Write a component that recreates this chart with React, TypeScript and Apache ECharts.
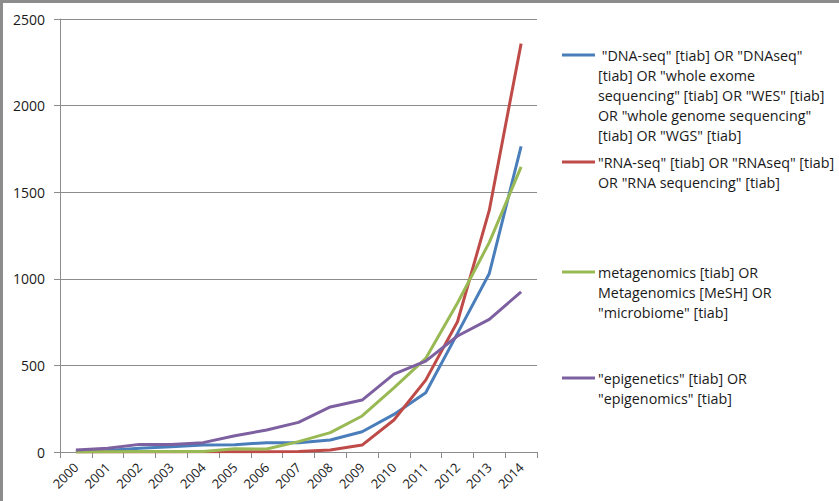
import React, { useEffect, useRef } from "react";
import * as echarts from "echarts";

const years = ["2000", "2001", "2002", "2003", "2004", "2005", "2006", "2007", "2008", "2009", "2010", "2011", "2012", "2013", "2014"];

const dnaSeq = [5, 8, 21, 31, 40, 42, 54, 54, 69, 117, 217, 342, 685, 1031, 1765];
const rnaSeq = [0, 0, 0, 0, 1, 1, 2, 3, 12, 40, 185, 415, 752, 1396, 2358];
const metagenomics = [0, 2, 3, 3, 3, 19, 17, 60, 112, 208, 370, 540, 860, 1210, 1646];
const epigenetics = [12, 21, 44, 44, 54, 94, 127, 171, 260, 300, 450, 525, 670, 766, 925];

const seriesNames = [
  "DNA-seq",
  "RNA-seq",
  "metagenomics",
  "epigenetics",
];
const legendTexts = [
  ' "DNA-seq" [tiab] OR "DNAseq"\n[tiab] OR "whole exome\nsequencing" [tiab] OR "WES" [tiab]\nOR "whole genome sequencing"\n[tiab] OR "WGS" [tiab]',
  '"RNA-seq" [tiab] OR "RNAseq" [tiab]\nOR "RNA sequencing" [tiab]',
  'metagenomics [tiab] OR\nMetagenomics [MeSH] OR\n"microbiome" [tiab]',
  '"epigenetics" [tiab] OR\n"epigenomics" [tiab]',
];
const colors = ["#4a7ebb", "#be4b48", "#98b954", "#7d60a0"];
const legendY = [55, 162, 272, 378];

const FONT = "'Open Sans', 'Noto Sans', sans-serif";

export default function App() {
  const ref = useRef<HTMLDivElement>(null);
  useEffect(() => {
    document.body.style.margin = "0";
    const chart = echarts.init(ref.current!, null, { renderer: "svg" });
    const data = [dnaSeq, rnaSeq, metagenomics, epigenetics];
    const graphic: any[] = [
      { type: "rect", shape: { x: 0, y: 0, width: 839, height: 3 }, style: { fill: "#8c8c8c" }, silent: true },
      { type: "rect", shape: { x: 0, y: 0, width: 3, height: 501 }, style: { fill: "#8c8c8c" }, silent: true },
    ];
    legendTexts.forEach((t, i) => {
      graphic.push({
        type: "line",
        shape: { x1: 562, y1: legendY[i], x2: 595, y2: legendY[i] },
        style: { stroke: colors[i], lineWidth: 3 },
      });
      graphic.push({
        type: "text",
        x: 598,
        y: legendY[i] - 10,
        style: {
          text: t,
          fill: "#1a1a1a",
          font: `14.3px ${FONT}`,
          lineHeight: 20,
          verticalAlign: "top",
          align: "left",
        },
      });
    });
    chart.setOption({
      animation: false,
      backgroundColor: "#ffffff",
      textStyle: { fontFamily: FONT },
      grid: { left: 60, right: 302, top: 19, bottom: 49, containLabel: false },
      xAxis: {
        type: "category",
        data: years,
        boundaryGap: true,
        axisLine: { lineStyle: { color: "#8c8c8c", width: 1 } },
        axisTick: { show: true, interval: 0, length: 6, lineStyle: { color: "#8c8c8c" } },
        axisLabel: { rotate: 45, interval: 0, fontSize: 13, color: "#1a1a1a", margin: 13, fontFamily: FONT },
        splitLine: { show: false },
      },
      yAxis: {
        type: "value",
        min: 0,
        max: 2500,
        interval: 500,
        axisLine: { show: true, lineStyle: { color: "#8c8c8c", width: 1 } },
        axisTick: { show: true, length: 6, lineStyle: { color: "#8c8c8c" } },
        axisLabel: { fontSize: 14, color: "#1a1a1a", margin: 15, fontFamily: FONT, formatter: (v: number) => String(v) },
        splitLine: { show: true, lineStyle: { color: "#8c8c8c", width: 1 } },
      },
      series: data.map((d, i) => ({
        name: seriesNames[i],
        type: "line",
        data: d,
        symbol: "none",
        lineStyle: { color: colors[i], width: 3 },
        itemStyle: { color: colors[i] },
      })),
      graphic,
    });
    return () => chart.dispose();
  }, []);
  return <div ref={ref} style={{ position: "fixed", left: 0, top: 0, width: 839, height: 501 }} />;
}
